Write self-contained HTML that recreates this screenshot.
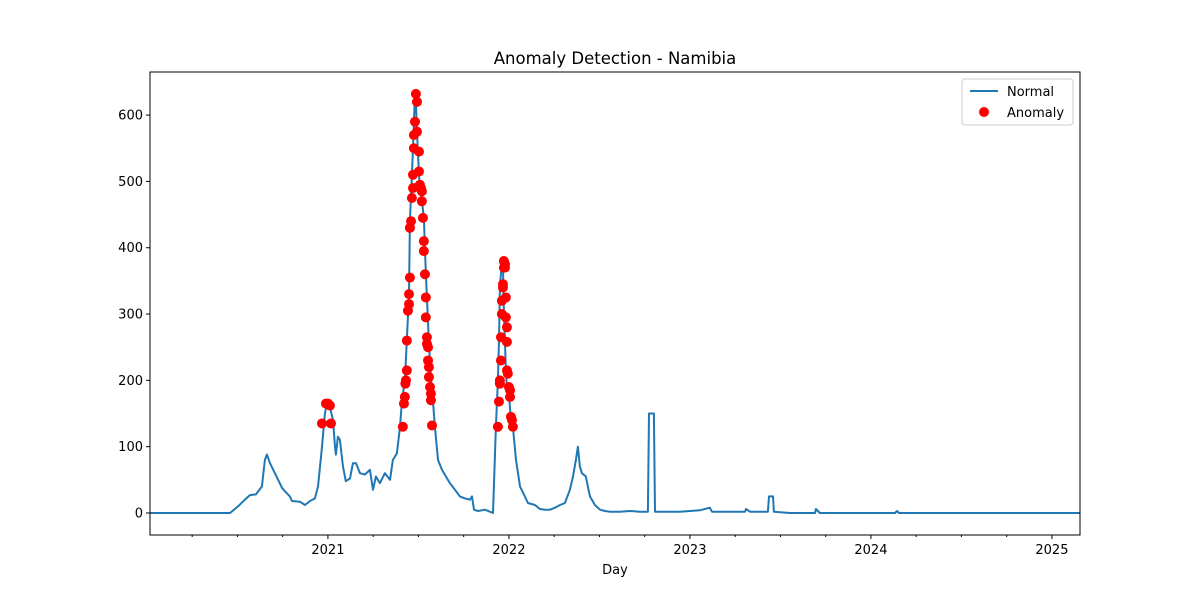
<!DOCTYPE html>
<html><head><meta charset="utf-8"><style>
body{margin:0;background:#fff;}
svg{font-family:"DejaVu Sans","Liberation Sans",sans-serif;}
</style></head><body>
<svg id="chart" width="1200" height="600" viewBox="0 0 1200 600">
<rect width="1200" height="600" fill="#fff"/>
<text x="615" y="64" text-anchor="middle" font-size="16.5">Anomaly Detection - Namibia</text>
<g id="plot"></g>
<rect x="150" y="72" width="930" height="463" fill="none" stroke="#000" stroke-width="1"/>
<text x="615" y="574" text-anchor="middle" font-size="13">Day</text>
<g>
<rect x="962" y="79" width="111" height="46" rx="3" fill="#fff" stroke="#ccc"/>
<line x1="970" y1="91" x2="998" y2="91" stroke="#1f77b4" stroke-width="2"/>
<text x="1007" y="96" font-size="13">Normal</text>
<circle cx="984" cy="112" r="5" fill="red"/>
<text x="1007" y="117" font-size="13">Anomaly</text>
</g>
</svg>
<script>
const lineDates=[2020.017,2020.459,2020.503,2020.541,2020.569,2020.602,2020.635,2020.652,2020.663,2020.680,2020.707,2020.746,2020.762,2020.790,2020.801,2020.845,2020.873,2020.901,2020.928,2020.945,2020.967,2020.983,2020.994,2021.011,2021.028,2021.039,2021.044,2021.055,2021.066,2021.083,2021.099,2021.122,2021.138,2021.155,2021.177,2021.204,2021.232,2021.249,2021.265,2021.287,2021.315,2021.343,2021.359,2021.381,2021.398,2021.409,2021.425,2021.436,2021.448,2021.453,2021.464,2021.470,2021.475,2021.481,2021.486,2021.492,2021.497,2021.503,2021.508,2021.519,2021.530,2021.536,2021.541,2021.547,2021.553,2021.558,2021.564,2021.569,2021.575,2021.580,2021.591,2021.608,2021.630,2021.652,2021.674,2021.702,2021.729,2021.757,2021.785,2021.796,2021.807,2021.829,2021.867,2021.895,2021.912,2021.928,2021.939,2021.945,2021.950,2021.961,2021.967,2021.972,2021.978,2021.983,2021.989,2022.000,2022.011,2022.022,2022.039,2022.061,2022.088,2022.105,2022.144,2022.171,2022.199,2022.227,2022.254,2022.282,2022.309,2022.337,2022.354,2022.370,2022.381,2022.392,2022.403,2022.425,2022.436,2022.448,2022.475,2022.503,2022.530,2022.558,2022.613,2022.669,2022.724,2022.768,2022.774,2022.801,2022.807,2022.945,2023.000,2023.055,2023.110,2023.122,2023.304,2023.310,2023.332,2023.431,2023.437,2023.459,2023.464,2023.553,2023.691,2023.696,2023.718,2023.994,2024.133,2024.144,2024.155,2025.155];
const lineValues=[0,0,10,20,27,28,40,80,88,75,60,38,33,25,18,17,12,18,22,40,100,150,165,160,140,100,88,115,110,70,48,52,75,75,60,58,65,35,55,45,60,50,80,90,130,170,200,260,330,440,510,550,590,632,620,575,545,510,490,470,445,400,360,325,290,255,230,205,180,170,130,80,65,55,45,35,25,22,20,25,5,3,5,2,0,130,200,260,340,380,370,300,260,215,190,180,140,130,80,40,25,15,12,6,5,5,8,12,15,35,55,80,100,70,60,55,40,25,12,5,3,2,2,3,2,2,150,150,2,2,3,4,8,2,2,6,2,2,25,25,2,0,0,6,0,0,0,3,0,0];
const anomalyDates=[2020.967,2020.989,2021.000,2021.011,2021.017,2021.414,2021.420,2021.425,2021.428,2021.431,2021.436,2021.436,2021.442,2021.448,2021.448,2021.453,2021.453,2021.459,2021.464,2021.470,2021.470,2021.475,2021.475,2021.481,2021.486,2021.492,2021.492,2021.503,2021.503,2021.508,2021.514,2021.519,2021.519,2021.525,2021.530,2021.530,2021.536,2021.541,2021.541,2021.547,2021.547,2021.553,2021.553,2021.558,2021.558,2021.564,2021.569,2021.569,2021.575,2021.939,2021.945,2021.950,2021.950,2021.956,2021.956,2021.961,2021.961,2021.967,2021.967,2021.972,2021.972,2021.978,2021.978,2021.983,2021.983,2021.989,2021.989,2021.989,2021.994,2022.000,2022.006,2022.006,2022.011,2022.017,2022.022];
const anomalyValues=[135,165,165,162,135,130,165,175,195,200,215,260,305,315,330,355,430,440,475,490,510,550,570,590,632,620,575,545,515,495,490,485,470,445,410,395,360,325,295,265,255,250,230,220,205,190,180,170,132,130,168,195,200,230,265,300,320,340,345,370,380,375,370,325,295,280,258,215,210,190,185,175,145,140,130];
const yTicks=[0,100,200,300,400,500,600];
const xTicks=[2021,2022,2023,2024,2025];
const xMin=2020.017,xMax=2025.155,yMin=-33.2,yMax=665;
const L=150,R=1080,T=72,B=535;
const sx=v=>L+(v-xMin)/(xMax-xMin)*(R-L);
const sy=v=>B-(v-yMin)/(yMax-yMin)*(B-T);
const NS='http://www.w3.org/2000/svg';
const plot=document.getElementById('plot');
function mk(tag,attrs){const e=document.createElementNS(NS,tag);for(const k in attrs)e.setAttribute(k,attrs[k]);return e;}
yTicks.forEach(t=>{
 const ln=mk('line',{x1:L-4,x2:L,y1:sy(t),y2:sy(t),stroke:'#000'});
 
 
 plot.appendChild(ln);
 const tx=mk('text',{x:L-7,y:sy(t)+4.5,'text-anchor':'end','font-size':13});
 
 
 tx.textContent=t;plot.appendChild(tx);
});
for(let q=Math.ceil(xMin*4);q<=xMax*4;q++){
 const v=q/4;if(Number.isInteger(v))continue;
 const ln=mk('line',{x1:sx(v),x2:sx(v),y1:B,y2:B+2,stroke:'#000'});
 
 
 plot.appendChild(ln);
}
xTicks.forEach(t=>{
 const ln=mk('line',{x1:sx(t),x2:sx(t),y1:B,y2:B+4,stroke:'#000'});
 
 
 plot.appendChild(ln);
 const tx=mk('text',{x:sx(t),y:B+19,'text-anchor':'middle','font-size':13});
 
 
 tx.textContent=t;plot.appendChild(tx);
});
const pts=lineDates.map((d,i)=>sx(d).toFixed(1)+','+sy(lineValues[i]).toFixed(1)).join(' ');
const pl=mk('polyline',{points:pts,fill:'none',stroke:'#1f77b4','stroke-width':2,'stroke-linejoin':'round'});


plot.appendChild(pl);
anomalyDates.forEach((d,i)=>{
 const c=mk('circle',{cx:sx(d),cy:sy(anomalyValues[i]),r:5,fill:'red'});
 
 
 plot.appendChild(c);
});
</script>
</body></html>
